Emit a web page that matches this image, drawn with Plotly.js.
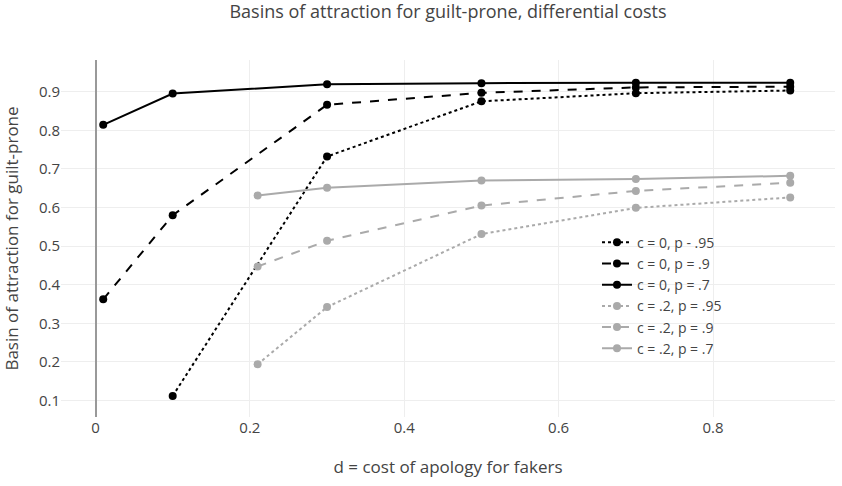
<!DOCTYPE html>
<html>
<head>
<meta charset="utf-8">
<script src="https://cdn.plot.ly/plotly-3.0.1.min.js"></script>
<style>html,body{margin:0;padding:0;background:#fff;}#chart{width:842px;height:486px;}</style>
</head>
<body>
<div id="chart"></div>
<script>
var seriesNames = ["c = 0, p - .95", "c = 0, p = .9", "c = 0, p = .7", "c = .2, p = .95", "c = .2, p = .9", "c = .2, p = .7"];
var xBlackDotted = [0.1, 0.3, 0.5, 0.7, 0.9];
var yBlackDotted = [0.112, 0.732, 0.875, 0.896, 0.903];
var xBlackDashed = [0.01, 0.1, 0.3, 0.5, 0.7, 0.9];
var yBlackDashed = [0.362, 0.580, 0.866, 0.897, 0.911, 0.913];
var xBlackSolid = [0.01, 0.1, 0.3, 0.5, 0.7, 0.9];
var yBlackSolid = [0.814, 0.895, 0.919, 0.922, 0.923, 0.923];
var xGray = [0.21, 0.3, 0.5, 0.7, 0.9];
var yGrayDotted = [0.194, 0.342, 0.531, 0.599, 0.626];
var yGrayDashed = [0.447, 0.514, 0.605, 0.643, 0.664];
var yGraySolid = [0.631, 0.651, 0.670, 0.674, 0.682];
var xTickVals = [0, 0.2, 0.4, 0.6, 0.8];
var yTickVals = [0.1, 0.2, 0.3, 0.4, 0.5, 0.6, 0.7, 0.8, 0.9];

var BLACK = "#000000", GRAY = "#aaaaaa";
function tr(x, y, name, color, dash) {
  return {x: x, y: y, name: name, type: "scatter", mode: "lines+markers",
    line: {color: color, width: 2, dash: dash}, marker: {color: color, size: 8}};
}
var data = [
  tr(xBlackDotted, yBlackDotted, seriesNames[0], BLACK, "dot"),
  tr(xBlackDashed, yBlackDashed, seriesNames[1], BLACK, "dash"),
  tr(xBlackSolid, yBlackSolid, seriesNames[2], BLACK, "solid"),
  tr(xGray, yGrayDotted, seriesNames[3], GRAY, "dot"),
  tr(xGray, yGrayDashed, seriesNames[4], GRAY, "dash"),
  tr(xGray, yGraySolid, seriesNames[5], GRAY, "solid")
];
var layout = {
  width: 842, height: 486,
  margin: {l: 61, r: 7, t: 60, b: 69},
  paper_bgcolor: "#fff", plot_bgcolor: "#fff",
  font: {family: "Open Sans, sans-serif", color: "#444", size: 14},
  title: {text: "Basins of attraction for guilt-prone, differential costs", xref: "paper", x: 0.5, xanchor: "center", yref: "container", y: 0.975, yanchor: "middle", font: {size: 18, color: "#444"}},
  xaxis: {range: [-0.0447, 0.958], tickvals: xTickVals, ticktext: xTickVals.map(String),
    showgrid: true, gridcolor: "#eeeeee", zeroline: true, zerolinecolor: "#999999", zerolinewidth: 2,
    showline: false, ticks: "", tickfont: {size: 15},
    title: {text: "d = cost of apology for fakers", font: {size: 17}, standoff: 25}},
  yaxis: {range: [0.0573, 0.982], tickvals: yTickVals, ticktext: yTickVals.map(String),
    showgrid: true, gridcolor: "#eeeeee", zeroline: false, showline: false, ticks: "", tickfont: {size: 15},
    title: {text: "Basin of attraction for guilt-prone", font: {size: 17}, standoff: 15}},
  showlegend: true,
  legend: {x: 0.6925, y: 0.533, xanchor: "left", yanchor: "top", font: {size: 14}, bgcolor: "rgba(0,0,0,0)", tracegroupgap: 0}
};
Plotly.newPlot("chart", data, layout, {displayModeBar: false, responsive: false});
</script>
</body>
</html>
